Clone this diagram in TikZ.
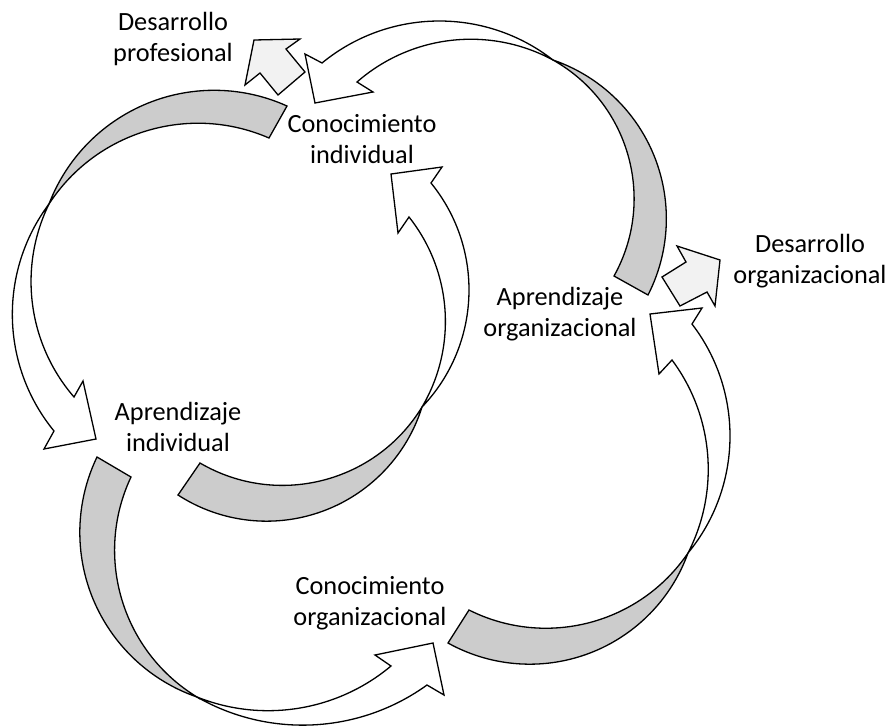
\documentclass[tikz,border=0pt]{standalone}
\usepackage{fontspec}
\setmainfont{Carlito}
\definecolor{bandgray}{RGB}{204,204,204}
\definecolor{paleblock}{RGB}{242,242,242}

% Circular arc through three points (x1,y1) (x2,y2) (x3,y3), starting at the first.
\ExplSyntaxOn
\cs_new:Npn \fpdec #1 { \fp_to_decimal:n { round( #1 , 5 ) } }
\ExplSyntaxOff
\makeatletter
\newcommand\defarc[7]{%
  \edef\da@D{\fpdec{2*((#2)*((#5)-(#7))+(#4)*((#7)-(#3))+(#6)*((#3)-(#5)))}}%
  \edef\da@ux{\fpdec{(((#2)^2+(#3)^2)*((#5)-(#7))+((#4)^2+(#5)^2)*((#7)-(#3))+((#6)^2+(#7)^2)*((#3)-(#5)))/\da@D}}%
  \edef\da@uy{\fpdec{(((#2)^2+(#3)^2)*((#6)-(#4))+((#4)^2+(#5)^2)*((#2)-(#6))+((#6)^2+(#7)^2)*((#4)-(#2)))/\da@D}}%
  \edef\da@r{\fpdec{sqrt(((#2)-\da@ux)^2+((#3)-\da@uy)^2)}}%
  \edef\da@a{\fpdec{atand((#3)-\da@uy,(#2)-\da@ux)}}%
  \edef\da@b{\fpdec{atand((#5)-\da@uy,(#4)-\da@ux)}}%
  \edef\da@c{\fpdec{atand((#7)-\da@uy,(#6)-\da@ux)}}%
  \edef\da@ab{\fpdec{\da@b-\da@a-360*floor((\da@b-\da@a)/360)}}%
  \edef\da@ac{\fpdec{\da@c-\da@a-360*floor((\da@c-\da@a)/360)}}%
  \edef\da@e{\fpdec{(\da@ab<\da@ac) ? (\da@a+\da@ac) : (\da@a+\da@ac-360)}}%
  \expandafter\edef\csname arc@#1\endcsname{arc[start angle=\da@a,end angle=\da@e,radius=\da@r]}%
}
\newcommand\arcto[1]{\csname arc@#1\endcsname}
\makeatother

% loop: Conocimiento individual -> Aprendizaje individual
\defarc{Ago}{287}{106}{133}{110}{49}{204}
\defarc{Agi}{49}{204}{173}{125}{269}{138}
\defarc{Awo}{49}{204}{13}{330}{54}{431}
\defarc{Awi}{74}{397}{32}{300}{49}{204}
% loop: Aprendizaje individual -> Conocimiento individual
\defarc{Bgu}{200}{463}{320}{481}{422}{407}
\defarc{Bgl}{422}{407}{333}{507}{178}{495}
\defarc{Bwo}{422}{407}{469}{290}{431}{183}
\defarc{Bwi}{409}{217}{445}{310}{422}{407}
% loop: Aprendizaje organizacional -> Conocimiento individual
\defarc{Cgi}{614}{276}{632}{173}{553}{60}
\defarc{Cgo}{553}{60}{660}{173}{648}{295}
\defarc{Cwu}{553}{60}{440}{21}{322}{63}
\defarc{Cwl}{357}{82}{440}{42}{553}{60}
% loop: Aprendizaje individual -> Conocimiento organizacional
\defarc{Dgo}{97}{457}{82}{560}{197}{697}
\defarc{Dgi}{197}{697}{120}{593}{131}{477}
\defarc{Dwl}{197}{697}{310}{725}{427}{685}
\defarc{Dwu}{391}{666}{300}{708}{197}{697}
% loop: Conocimiento organizacional -> Aprendizaje organizacional
\defarc{Egu}{469}{610}{607}{617}{688}{553}
\defarc{Egl}{688}{553}{590}{653}{448}{643}
\defarc{Ewo}{688}{553}{730}{437}{692}{324}
\defarc{Ewi}{672}{360}{708}{460}{688}{553}

\begin{document}
\begin{tikzpicture}[x=1pt,y=-1pt,
  back/.style={fill=bandgray,draw=black,line width=1.3pt},
  front/.style={fill=white,draw=black,line width=1.3pt},
  block/.style={fill=paleblock,draw=black,line width=1.3pt},
  label/.style={font=\fontsize{26.3}{31}\selectfont,align=center,inner sep=0pt,anchor=base}]
\useasboundingbox[fill=white] (0,0) rectangle (890,726);

% --- loop from Conocimiento individual to Aprendizaje individual
\path[back] (287,106) \arcto{Ago} -- (49,204) \arcto{Agi} -- cycle;
\path[front] (49,204) \arcto{Awo} -- (44,449) -- (96,439) -- (83,381) -- (74,397) \arcto{Awi} -- cycle;

% --- loop from Aprendizaje individual to Conocimiento individual
\path[back] (200,463) \arcto{Bgu} -- (422,407) \arcto{Bgl} -- cycle;
\path[front] (422,407) \arcto{Bwo} -- (442,167) -- (391,174) -- (398,233) -- (409,217) \arcto{Bwi} -- cycle;

% --- loop from Aprendizaje organizacional to Conocimiento individual
\path[back] (614,276) \arcto{Cgi} -- (553,60) \arcto{Cgo} -- cycle;
\path[front] (553,60) \arcto{Cwu} -- (305,54) -- (315,103) -- (373,92) -- (357,82) \arcto{Cwl} -- cycle;

% --- loop from Aprendizaje individual to Conocimiento organizacional
\path[back] (97,457) \arcto{Dgo} -- (197,697) \arcto{Dgi} -- cycle;
\path[front] (197,697) \arcto{Dwl} -- (444,695) -- (433,643) -- (375,655) -- (391,666) \arcto{Dwu} -- cycle;

% --- loop from Conocimiento organizacional to Aprendizaje organizacional
\path[back] (469,610) \arcto{Egu} -- (688,553) \arcto{Egl} -- cycle;
\path[front] (688,553) \arcto{Ewo} -- (702,308) -- (650,314) -- (659,374) -- (672,360) \arcto{Ewi} -- cycle;

% --- development outputs
\path[block] (278,95) -- (260,73) -- (245,85) -- (254,40) -- (300,39) -- (286,49) -- (305,72) -- cycle;
\path[block] (662,277) -- (686,262) -- (677,246) -- (720,260) -- (715,306) -- (707,292) -- (680,306) -- cycle;

% --- labels (anchored on the baseline of their last line)
\node[label] (dprof) at (173,61)  {Desarrollo\\profesional};
\node[label] (cind)  at (362,163) {Conocimiento\\individual};
\node[label] (dorg)  at (810,283) {Desarrollo\\organizacional};
\node[label] (aorg)  at (560,336) {Aprendizaje\\organizacional};
\node[label] (aind)  at (178,451) {Aprendizaje\\individual};
\node[label] (corg)  at (370,625) {Conocimiento\\organizacional};
\end{tikzpicture}
\end{document}
